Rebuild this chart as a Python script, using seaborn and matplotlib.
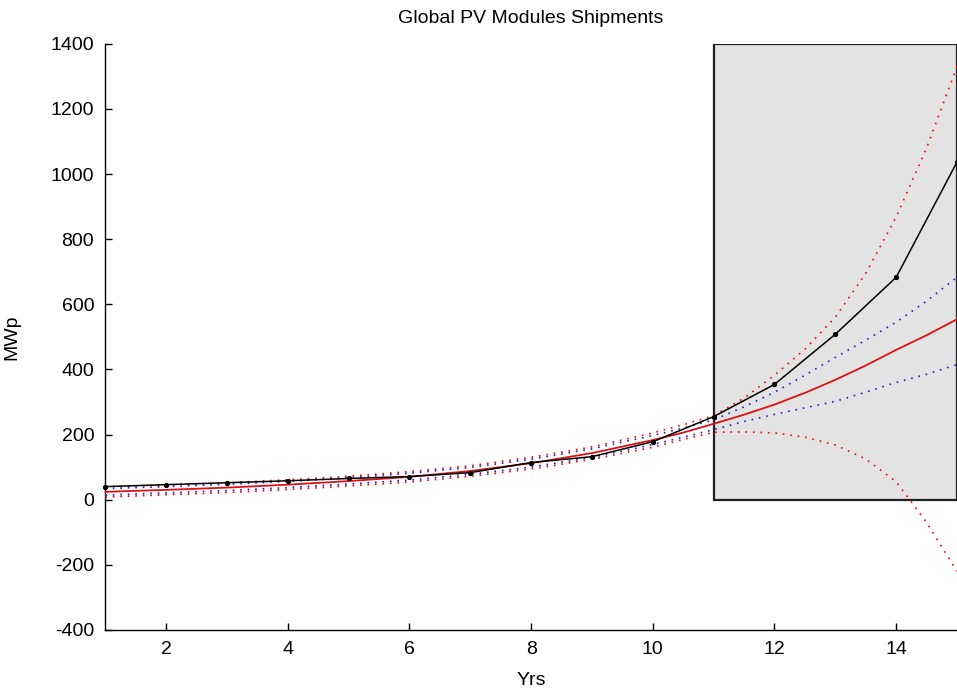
import numpy as np
import pandas as pd
import seaborn as sns
import matplotlib.pyplot as plt
from matplotlib.patches import Rectangle

sns.set_theme(style="white")
plt.rcParams['font.family'] = ['Liberation Sans', 'DejaVu Sans']
plt.rcParams['axes.unicode_minus'] = False
plt.rcParams['text.color'] = "black"
plt.rcParams['axes.labelcolor'] = "black"

# observed shipments (MWp) per year index
years = list(range(1, 16))
shipments = [40, 46, 52, 58, 65, 71, 83, 114, 132, 178, 255, 354, 508, 683, 1037]

# fitted curve and its bounds
fit_x = [1, 2, 3, 4, 5, 6, 7, 8, 9, 10, 10.5, 11, 11.5, 12, 12.5, 13, 13.5, 14, 14.5, 15]
fit_y = [24, 30, 37, 46, 57, 70, 88, 112, 143, 183, 206, 233, 261, 292, 328, 368, 412, 460, 505, 554]
red_upper = [40, 45, 52, 61, 72, 86, 104, 130, 162, 205, 230, 258, 312, 382, 462, 560, 695, 868, 1080, 1330]
red_lower = [8, 15, 22, 31, 42, 54, 72, 94, 124, 161, 185, 207, 208, 205, 192, 168, 125, 55, -70, -220]
blue_upper = [34, 40, 47, 56, 67, 81, 99, 124, 156, 197, 220, 245, 285, 330, 382, 437, 490, 545, 610, 683]
blue_lower = [14, 21, 28, 37, 48, 60, 78, 100, 130, 169, 192, 215, 240, 262, 282, 302, 330, 360, 385, 415]

# forecast window
box_x0, box_x1 = 11, 15
box_y0, box_y1 = 0, 1400

obs = pd.DataFrame({"Yrs": years, "MWp": shipments})
fit = pd.DataFrame({"x": fit_x, "fit": fit_y, "ru": red_upper, "rl": red_lower,
                    "bu": blue_upper, "bl": blue_lower})

fig = plt.figure(figsize=(9.57, 6.96), dpi=100)
ax = fig.add_axes([0.110, 0.095, 0.890, 0.842])

ax.add_patch(Rectangle((box_x0, box_y0), box_x1 - box_x0, box_y1 - box_y0,
                       facecolor="#e3e3e3", edgecolor="#222222", lw=1.6, zorder=1))

for col, c in [("ru", "red"), ("rl", "red"), ("bu", "#1f1fd0"), ("bl", "#1f1fd0")]:
    sns.lineplot(data=fit, x="x", y=col, color=c, ls=(0, (1, 3.5)), lw=1.2,
                 ax=ax, zorder=3, clip_on=False)
sns.lineplot(data=fit, x="x", y="fit", color="#e01010", lw=1.3, ax=ax, zorder=4, clip_on=False)
sns.lineplot(data=obs, x="Yrs", y="MWp", color="black", lw=1.1, marker=".",
             markersize=6, markeredgecolor="black", ax=ax, zorder=5, clip_on=False)

ax.set_xlim(1, 15)
ax.set_ylim(-400, 1400)
ax.set_xticks(range(2, 15, 2))
ax.set_yticks(range(-400, 1401, 200))
ax.tick_params(direction="in", length=5, width=1, colors="black", labelsize=14,
               left=True, bottom=True, pad=8)
for s in ["top", "right"]:
    ax.spines[s].set_visible(False)
for s in ["left", "bottom"]:
    ax.spines[s].set_color("black")
    ax.spines[s].set_linewidth(1)

ax.set_title("Global PV Modules Shipments", fontsize=14, pad=15)
ax.set_xlabel("Yrs", fontsize=14, labelpad=10)
ax.set_ylabel("MWp", fontsize=14, labelpad=22)

fig.savefig("out.png", dpi=100, facecolor="white")
